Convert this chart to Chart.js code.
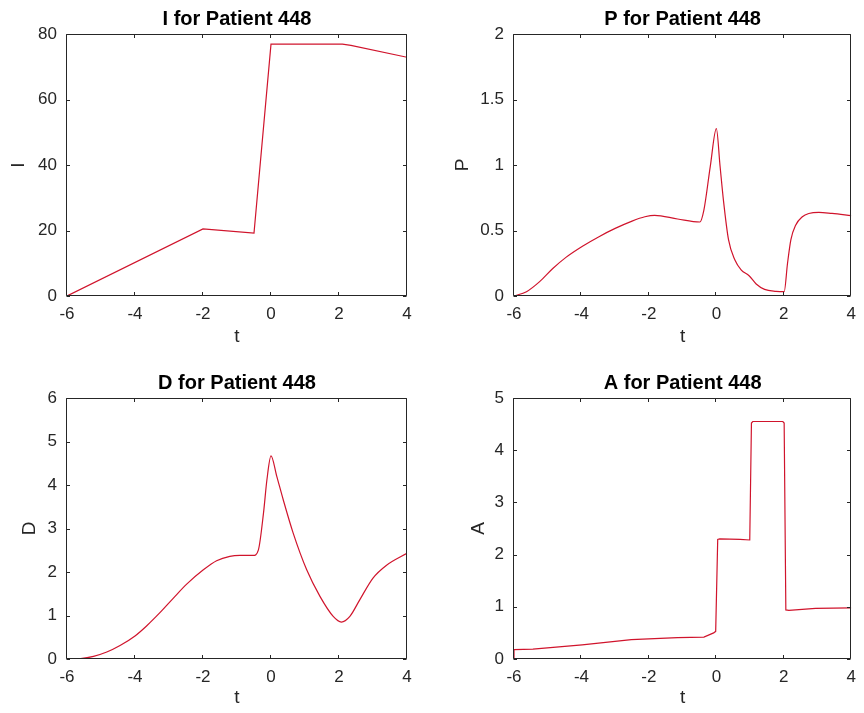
<!DOCTYPE html>
<html>
<head>
<meta charset="utf-8">
<script src="https://cdn.jsdelivr.net/npm/chart.js@4.4.1/dist/chart.umd.min.js"></script>
<style>
  html, body { margin: 0; padding: 0; background: #fff; overflow: hidden; }
  #wrap { position: relative; width: 864px; height: 713px; }
  canvas { position: absolute; }
</style>
</head>
<body>
<div id="wrap">
  <canvas id="cI" width="432" height="356" style="left:0;top:0"></canvas>
  <canvas id="cP" width="432" height="356" style="left:432px;top:0"></canvas>
  <canvas id="cD" width="432" height="357" style="left:0;top:356px"></canvas>
  <canvas id="cA" width="432" height="357" style="left:432px;top:356px"></canvas>
</div>
<script>
// Shared time axis ticks
const xTicks = [-6, -4, -2, 0, 2, 4];

// I
const tI   = [-6, -2, -0.5, 0, 2.1, 2.35, 4];
const valI = [0, 20.5, 19.2, 76.9, 76.9, 76.5, 72.9];
const yTicksI = [0, 20, 40, 60, 80];

// P
const tP   = [-6, -5.63, -5.24, -4.85, -4.46, -3.97, -3.48, -3.0, -2.5, -2.12, -1.83, -1.15, -0.49,
              -0.37, -0.18, 0, 0.11, 0.21, 0.36, 0.55, 0.74, 0.97, 1.18, 1.43, 1.77, 2.01,
              2.11, 2.21, 2.35, 2.55, 2.74, 3.04, 3.43, 4];
const valP = [0, 0.033, 0.11, 0.21, 0.295, 0.38, 0.453, 0.516, 0.572, 0.605, 0.616, 0.588, 0.565,
              0.656, 0.99, 1.277, 0.99, 0.73, 0.43, 0.275, 0.198, 0.155, 0.092, 0.051, 0.036, 0.033,
              0.25, 0.43, 0.54, 0.605, 0.63, 0.639, 0.63, 0.613];
const yTicksP = [0, 0.5, 1, 1.5, 2];

// D
const tD   = [-6, -5.6, -5.22, -4.83, -4.44, -4.0, -3.66, -3.26, -2.87, -2.48, -1.99, -1.6, -1.21,
              -0.91, -0.52, -0.37, -0.22, -0.12, 0, 0.17, 0.36, 0.65, 1.05, 1.44, 1.83, 2.07,
              2.32, 2.61, 3.0, 3.39, 4];
const valD = [0, 0.01, 0.06, 0.16, 0.31, 0.53, 0.76, 1.07, 1.4, 1.72, 2.05, 2.26, 2.36,
              2.38, 2.38, 2.51, 3.36, 4.12, 4.67, 4.2, 3.66, 2.9, 2.05, 1.44, 0.98, 0.85,
              0.98, 1.36, 1.86, 2.15, 2.43];
const yTicksD = [0, 1, 2, 3, 4, 5, 6];

// A
const tA   = [-6, -6, -5.44, -3.98, -2.52, -1.15, -0.37, -0.08, -0.02, 0.04, 0.1, 0.7, 0.99,
              1.04, 1.08, 1.97, 2.01, 2.06, 2.15, 2.94, 4];
const valA = [0.02, 0.18, 0.19, 0.27, 0.37, 0.41, 0.42, 0.5, 0.53, 2.29, 2.3, 2.29, 2.28,
              4.52, 4.55, 4.55, 4.52, 0.94, 0.93, 0.97, 0.98];
const yTicksA = [0, 1, 2, 3, 4, 5];

const FONT = '"Liberation Sans", Arial, Helvetica, sans-serif';
const AXIS_COLOR = '#262626';
const LINE_COLOR = '#d0142c';
const TICK_LEN = 3.5;

// Box around the plot area with inward tick marks on all four sides
const framePlugin = {
  id: 'frame',
  afterDatasetsDraw(chart) {
    const { ctx, chartArea: a, scales: { x, y } } = chart;
    const L = Math.round(a.left) - 0.5, R = Math.round(a.right) - 0.5;
    const T = Math.round(a.top) + 0.5, B = Math.round(a.bottom) - 0.5;
    ctx.save();
    ctx.strokeStyle = AXIS_COLOR;
    ctx.lineWidth = 1;
    ctx.beginPath();
    ctx.rect(L, T, R - L, B - T);
    x.ticks.forEach(t => {
      const px = Math.round(x.getPixelForValue(t.value)) - 0.5;
      ctx.moveTo(px, B); ctx.lineTo(px, B - TICK_LEN);
      ctx.moveTo(px, T); ctx.lineTo(px, T + TICK_LEN);
    });
    y.ticks.forEach(t => {
      const py = Math.round(y.getPixelForValue(t.value)) + 0.5;
      ctx.moveTo(L, py); ctx.lineTo(L + TICK_LEN, py);
      ctx.moveTo(R, py); ctx.lineTo(R - TICK_LEN, py);
    });
    ctx.stroke();
    ctx.restore();
  }
};

// Bold title centred over the plot area
const panelTitlePlugin = {
  id: 'panelTitle',
  afterDraw(chart, args, opts) {
    const { ctx, chartArea: a } = chart;
    ctx.save();
    ctx.font = 'bold 20px ' + FONT;
    ctx.fillStyle = '#000';
    ctx.textAlign = 'center';
    ctx.textBaseline = 'alphabetic';
    ctx.fillText(opts.text, (a.left + a.right) / 2, a.top - 9);
    ctx.restore();
  }
};

function makePanel(id, title, yLabel, ts, vals, yTicks, g) {
  const data = ts.map((t, i) => ({ x: t, y: vals[i] }));
  return new Chart(document.getElementById(id), {
    type: 'line',
    data: {
      datasets: [{
        data,
        borderColor: LINE_COLOR,
        borderWidth: 1.2,
        pointRadius: 0,
        fill: false,
        cubicInterpolationMode: g.smooth ? 'monotone' : 'default',
        tension: 0
      }]
    },
    options: {
      responsive: false,
      animation: false,
      devicePixelRatio: 1,
      layout: { padding: { left: 0, right: g.padRight, top: g.padTop, bottom: 0 } },
      plugins: {
        legend: { display: false },
        tooltip: { enabled: false },
        title: { display: false },
        panelTitle: { text: title }
      },
      scales: {
        x: {
          type: 'linear',
          min: -6, max: 4,
          afterBuildTicks: s => { s.ticks = xTicks.map(v => ({ value: v })); },
          afterFit: s => { s.height = g.xAxisH; },
          grid: { display: false, drawTicks: false },
          border: { display: false },
          ticks: {
            padding: 8,
            color: AXIS_COLOR,
            font: { family: FONT, size: 17 },
            maxRotation: 0,
            callback: v => String(v)
          },
          title: {
            display: true, text: 't', color: AXIS_COLOR,
            font: { family: FONT, size: 19 },
            padding: { top: 0, bottom: g.xTitlePad }
          }
        },
        y: {
          type: 'linear',
          min: yTicks[0], max: yTicks[yTicks.length - 1],
          afterBuildTicks: s => { s.ticks = yTicks.map(v => ({ value: v })); },
          afterFit: s => { s.width = g.yAxisW; },
          grid: { display: false, drawTicks: false },
          border: { display: false },
          ticks: {
            padding: 10,
            color: AXIS_COLOR,
            font: { family: FONT, size: 17 },
            callback: v => String(v)
          },
          title: {
            display: true, text: yLabel, color: AXIS_COLOR,
            font: { family: FONT, size: 19 },
            padding: { top: g.yTitlePad, bottom: 0 }
          }
        }
      }
    },
    plugins: [framePlugin, panelTitlePlugin]
  });
}

makePanel('cI', 'I for Patient 448', 'I', tI, valI, yTicksI,
  { yAxisW: 67, padRight: 25, padTop: 34, xAxisH: 60, yTitlePad: 7.4, xTitlePad: 7.6, smooth: false });
makePanel('cP', 'P for Patient 448', 'P', tP, valP, yTicksP,
  { yAxisW: 82, padRight: 8, padTop: 34, xAxisH: 60, yTitlePad: 19.4, xTitlePad: 7.6, smooth: true });
makePanel('cD', 'D for Patient 448', 'D', tD, valD, yTicksD,
  { yAxisW: 67, padRight: 25, padTop: 42, xAxisH: 54, yTitlePad: 18.1, xTitlePad: 3.6, smooth: true });
makePanel('cA', 'A for Patient 448', 'A', tA, valA, yTicksA,
  { yAxisW: 82, padRight: 8, padTop: 42, xAxisH: 54, yTitlePad: 34.9, xTitlePad: 3.6, smooth: false });
</script>
</body>
</html>
